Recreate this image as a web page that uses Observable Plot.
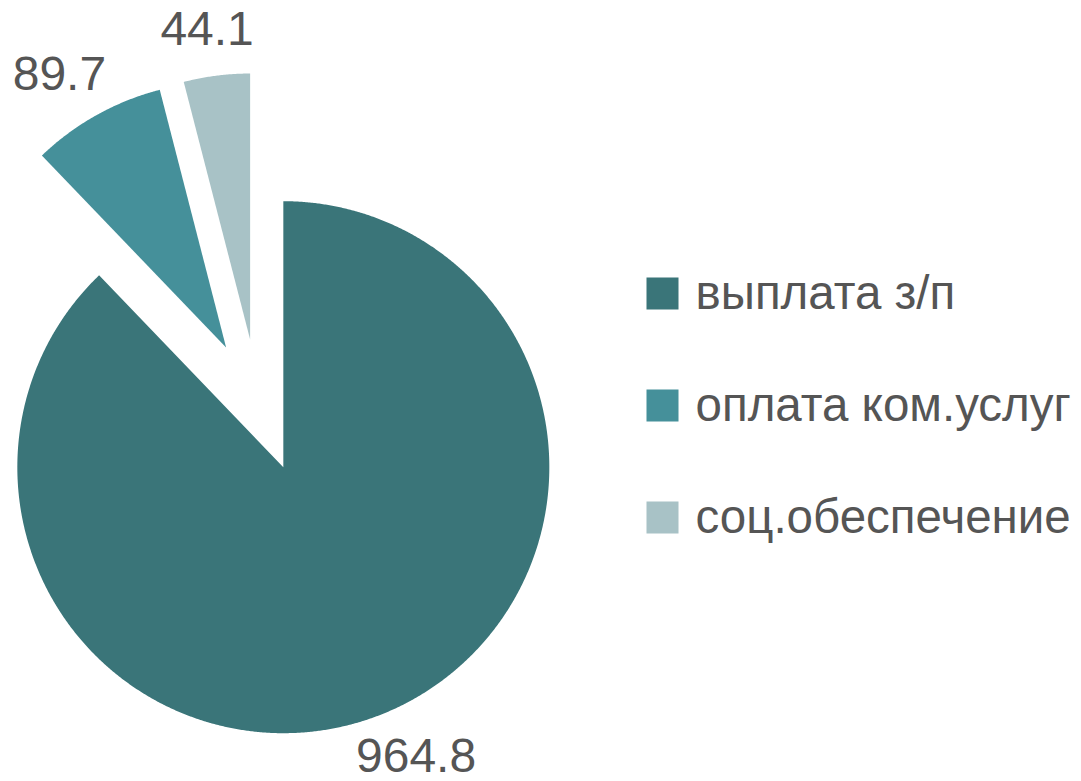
<!DOCTYPE html>
<html>
<head>
<meta charset="utf-8">
<script src="https://cdn.jsdelivr.net/npm/d3@7"></script>
<script src="https://cdn.jsdelivr.net/npm/@observablehq/plot@0.6"></script>
<style>
  html, body { margin: 0; padding: 0; background: #fff; }
  #chart { width: 1081px; height: 781px; }
</style>
</head>
<body>
<div id="chart"></div>
<script>
// ---- data ----
const categories = ["выплата з/п", "оплата ком.услуг", "соц.обеспечение"];
const values = [964.8, 89.7, 44.1];
const labels = ["964.8", "89.7", "44.1"];
const colors = ["#3a7579", "#45909a", "#a8c2c6"];

// ---- layout ----
const W = 1081, H = 781;
const cx = 258, cy = 405, R = 266;
const explode = 0.25;        // fraction of radius each slice is pulled out
const labelDist = 362;       // distance of label anchor from pie centre
const LABEL_FS = 48, LEGEND_FS = 47.5;
const FONT = "Liberation Sans, Arial, sans-serif";
const TEXT = "#555555";

const arcs = d3.pie().sort(null).value(d => d.value)(
  categories.map((c, i) => ({ key: c, value: values[i], label: labels[i] }))
);

// polygon points for each slice
const slicePts = [];
const labelPts = [];
arcs.forEach(a => {
  const mid = (a.startAngle + a.endAngle) / 2;
  const ox = cx + R * explode * Math.sin(mid);
  const oy = cy - R * explode * Math.cos(mid);
  const key = a.data.key;
  slicePts.push({ key, x: ox, y: oy });
  const n = Math.max(8, Math.ceil((a.endAngle - a.startAngle) / 0.005));
  for (let j = 0; j <= n; j++) {
    const t = a.startAngle + (a.endAngle - a.startAngle) * j / n;
    slicePts.push({ key, x: ox + R * Math.sin(t), y: oy - R * Math.cos(t) });
  }
  slicePts.push({ key, x: ox, y: oy });
  // label box placed just outside the anchor point (box half-size shift)
  const txt = a.data.label;
  const hw = (txt.replace(".", "").length * 0.556 + 0.278) * LABEL_FS / 2;
  const hh = 17;
  labelPts.push({
    label: txt,
    x: cx + labelDist * Math.sin(mid) + hw * Math.sin(mid),
    y: cy - labelDist * Math.cos(mid) - hh * Math.cos(mid)
  });
});

// legend entries
const legendX = 662, legendY0 = 293, legendStep = 112;
const legend = categories.map((c, i) => ({ key: c, x: legendX, y: legendY0 + i * legendStep }));

const plot = Plot.plot({
  width: W,
  height: H,
  margin: 0,
  style: { fontFamily: FONT, background: "#fff", overflow: "visible" },
  x: { domain: [0, W], range: [0, W], axis: null },
  y: { domain: [0, H], range: [0, H], axis: null },
  color: { type: "ordinal", domain: categories, range: colors },
  marks: [
    Plot.line(slicePts, { x: "x", y: "y", z: "key", fill: "key", stroke: "none", curve: "linear" }),
    Plot.text(labelPts, { x: "x", y: "y", text: "label", fontSize: LABEL_FS, fill: TEXT, textAnchor: "middle", lineAnchor: "middle" }),
    Plot.dot(legend, { x: "x", y: "y", fill: "key", symbol: "square", r: 32 / Math.sqrt(Math.PI), stroke: "none" }),
    Plot.text(legend, { x: d => d.x + 33, y: "y", text: "key", fontSize: LEGEND_FS, fill: TEXT, textAnchor: "start", lineAnchor: "middle" })
  ]
});
document.getElementById("chart").append(plot);
</script>
</body>
</html>
